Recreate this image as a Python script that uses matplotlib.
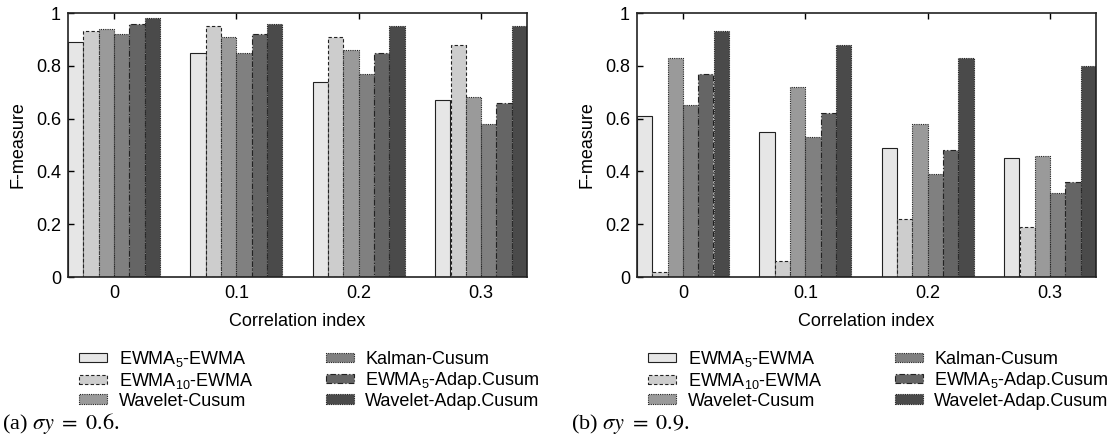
import matplotlib
matplotlib.use("Agg")
import matplotlib.pyplot as plt
from matplotlib.patches import Patch
import numpy as np

plt.rcParams['font.family'] = ['Liberation Sans', 'DejaVu Sans']
plt.rcParams['mathtext.fontset'] = 'custom'
plt.rcParams['mathtext.rm'] = 'Liberation Sans'
plt.rcParams['mathtext.it'] = 'Liberation Sans:italic'
plt.rcParams['font.size'] = 13

# data
corr_labels = ['0', '0.1', '0.2', '0.3']
methods = ['EWMA$_5$-EWMA', 'EWMA$_{10}$-EWMA', 'Wavelet-Cusum',
           'Kalman-Cusum', 'EWMA$_5$-Adap.Cusum', 'Wavelet-Adap.Cusum']

# sigma y = 0.6, one list per method (values for corr 0, 0.1, 0.2, 0.3)
ewma5_ewma_a = [0.89, 0.85, 0.74, 0.67]
ewma10_ewma_a = [0.93, 0.95, 0.91, 0.88]
wavelet_cusum_a = [0.94, 0.91, 0.86, 0.68]
kalman_cusum_a = [0.92, 0.85, 0.77, 0.58]
ewma5_adap_a = [0.96, 0.92, 0.85, 0.66]
wavelet_adap_a = [0.98, 0.96, 0.95, 0.95]

# sigma y = 0.9
ewma5_ewma_b = [0.61, 0.55, 0.49, 0.45]
ewma10_ewma_b = [0.02, 0.06, 0.22, 0.19]
wavelet_cusum_b = [0.83, 0.72, 0.58, 0.46]
kalman_cusum_b = [0.65, 0.53, 0.39, 0.32]
ewma5_adap_b = [0.77, 0.62, 0.48, 0.36]
wavelet_adap_b = [0.93, 0.88, 0.83, 0.80]

series_a = [ewma5_ewma_a, ewma10_ewma_a, wavelet_cusum_a,
            kalman_cusum_a, ewma5_adap_a, wavelet_adap_a]
series_b = [ewma5_ewma_b, ewma10_ewma_b, wavelet_cusum_b,
            kalman_cusum_b, ewma5_adap_b, wavelet_adap_b]

fills = ['#e6e6e6', '#cdcdcd', '#9a9a9a', '#808080', '#656565', '#4a4a4a']
edge_styles = ['-', (0, (3, 2)), (0, (1, 1)), (0, (1, 1)),
               (0, (5, 2, 1, 2)), (0, (1, 1))]
EDGE = '#222222'
W = 0.125

W_PX, H_PX = 1117, 438
fig = plt.figure(figsize=(W_PX / 100, H_PX / 100), dpi=100)


def draw_panel(left_px, series, caption):
	ax = fig.add_axes([left_px / W_PX, 1 - 277 / H_PX, 459 / W_PX, 264 / H_PX])
	x = np.arange(len(corr_labels))
	for j, vals in enumerate(series):
		ax.bar(x + (j - 2.5) * W, vals, width=W, color=fills[j],
			   edgecolor=EDGE, linewidth=0.8, linestyle=edge_styles[j])
	ax.set_xlim(-3 * W, len(corr_labels) - 1 + 3 * W)
	ax.set_ylim(0, 1)
	ax.set_xticks(x)
	ax.set_xticklabels(corr_labels)
	ax.set_yticks(np.arange(0, 1.01, 0.2))
	ax.set_yticklabels(['0', '0.2', '0.4', '0.6', '0.8', '1'])
	ax.tick_params(axis='x', direction='in', bottom=False, top=True,
				   labelbottom=True, length=4, width=1, pad=6)
	ax.tick_params(axis='y', direction='in', left=True, right=False,
				   length=4, width=1, pad=5)
	for s in ax.spines.values():
		s.set_linewidth(1.2)
		s.set_color('#222222')
	ax.set_xlabel('Correlation index', labelpad=8)
	ax.set_ylabel('F-measure', labelpad=7)

	handles = [Patch(facecolor=fills[j], edgecolor=EDGE, linewidth=0.8,
					 linestyle=edge_styles[j]) for j in range(6)]
	fig.legend(handles, methods, ncol=2, frameon=False, loc='upper left',
			   bbox_to_anchor=((left_px + 11) / W_PX, 1 - 349 / H_PX),
			   borderpad=0, borderaxespad=0, handlelength=1.55,
			   handleheight=0.45, handletextpad=0.65, labelspacing=0.1,
			   columnspacing=4.0, fontsize=13)
	fig.text((left_px - 66) / W_PX, 1 - 424 / H_PX, caption,
			 family='Liberation Serif', math_fontfamily='stix',
			 fontsize=16, va='center', ha='left')
	return ax


draw_panel(68, series_a, r'(a) $\sigma y\ =\ 0.6$.')
draw_panel(637, series_b, r'(b) $\sigma y\ =\ 0.9$.')

fig.savefig('out.png', dpi=100)
